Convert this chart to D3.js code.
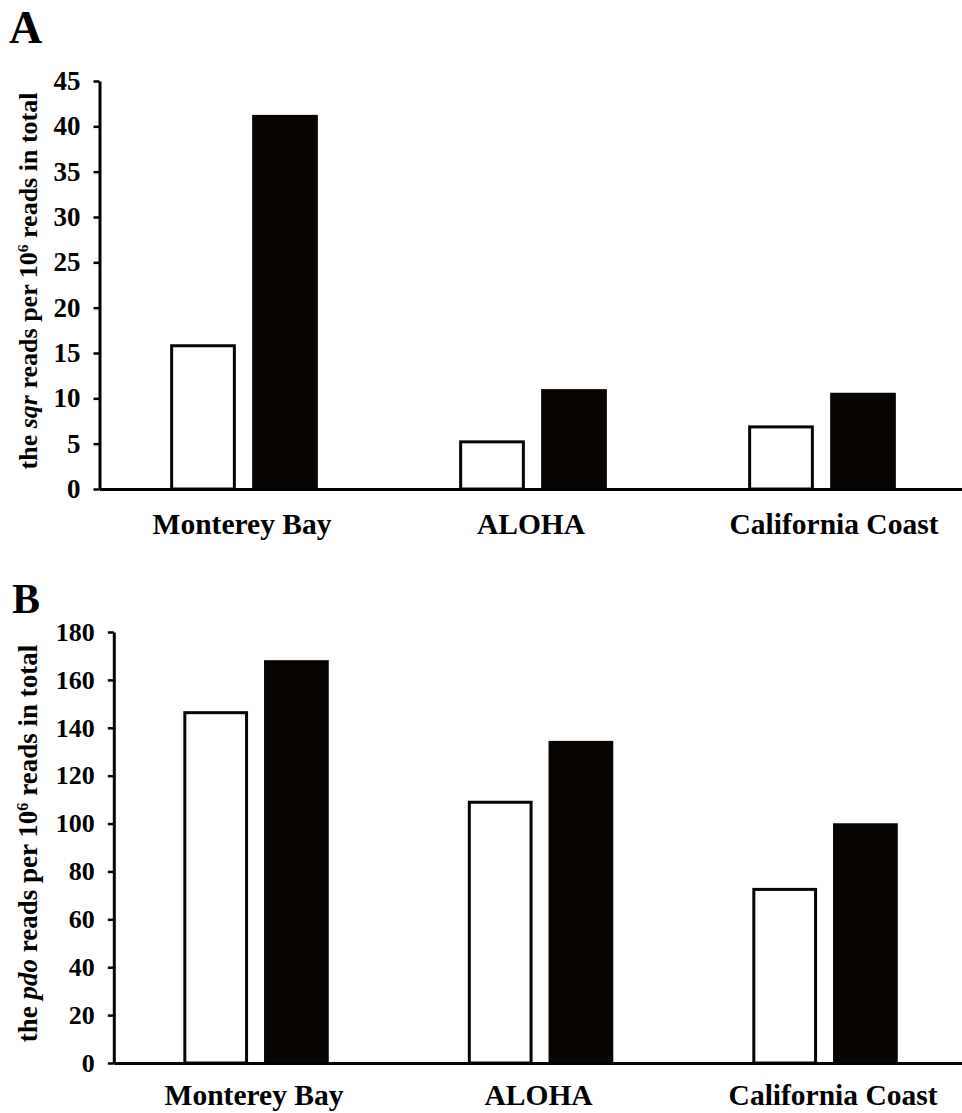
<!DOCTYPE html>
<meta charset="utf-8">
<style>
body { margin: 0; background: #fff; }
text { font-family: "Liberation Serif", "Times New Roman", serif; font-weight: bold; fill: #000; }
</style>
<body>
<script src="https://d3js.org/d3.v7.min.js"></script>
<script>

var sites = ["Monterey Bay", "ALOHA", "California Coast"];
var series = ["white", "black"];

// panel A: sqr reads per 10^6 reads
var sqrWhite = [15.8, 5.2, 6.85];
var sqrBlack = [41.1, 10.85, 10.45];
var sqrTicks = [0, 5, 10, 15, 20, 25, 30, 35, 40, 45];

// panel B: pdo reads per 10^6 reads
var pdoWhite = [146.3, 108.9, 72.5];
var pdoBlack = [167.6, 133.9, 99.5];
var pdoTicks = [0, 20, 40, 60, 80, 100, 120, 140, 160, 180];

var width = 962, height = 1113;

var svg = d3.select("body").append("svg")
    .attr("width", width)
    .attr("height", height);

function panel(opt) {
  var g = svg.append("g");

  var x = d3.scaleBand()
      .domain(sites)
      .range([opt.left, opt.left + 3 * opt.band]);

  var xs = d3.scaleBand()
      .domain(series)
      .range([0, opt.band])
      .paddingInner(0.235)
      .paddingOuter(0.88);

  var y = d3.scaleLinear()
      .domain([0, opt.max])
      .range([opt.bottom, opt.top]);

  var rows = [];
  sites.forEach(function(s, i) {
    rows.push({site: s, k: "white", v: opt.white[i]});
    rows.push({site: s, k: "black", v: opt.black[i]});
  });

  g.selectAll("rect.bar")
    .data(rows)
    .enter().append("rect")
      .attr("class", "bar")
      .attr("x", d => x(d.site) + xs(d.k))
      .attr("width", xs.bandwidth())
      .attr("y", d => y(d.v))
      .attr("height", d => y(0) - y(d.v))
      .attr("fill", d => d.k == "white" ? "#fff" : "#080402")
      .attr("stroke", "#080402")
      .attr("stroke-width", 3);

  // y axis
  var ya = g.append("g")
      .attr("transform", "translate(" + opt.left + ",0)")
      .call(d3.axisLeft(y).tickValues(opt.ticks).tickSize(6).tickSizeOuter(0).tickPadding(13));
  ya.select(".domain").attr("stroke", "#000").attr("stroke-width", 3);
  ya.selectAll(".tick line").attr("stroke", "#000").attr("stroke-width", 2.5);
  ya.selectAll(".tick text")
      .attr("font-weight", "bold")
      .attr("font-size", opt.tickSize)
      .attr("fill", "#000");

  // x axis
  var xa = g.append("g")
      .attr("transform", "translate(0," + opt.bottom + ")")
      .call(d3.axisBottom(x).tickSize(0).tickSizeOuter(0));
  xa.select(".domain").attr("stroke", "#000").attr("stroke-width", 3);
  xa.selectAll(".tick text")
      .attr("font-weight", "bold")
      .attr("font-size", 29.5)
      .attr("fill", "#000")
      .attr("dy", null)
      .attr("dx", (d, i) => i == 2 ? opt.lastShift : -2)
      .attr("y", opt.labelY - opt.bottom);

  // y label
  var lab = g.append("text")
      .attr("transform", "translate(37," + ((opt.top + opt.bottom) / 2 - 4) + ") rotate(-90)")
      .attr("text-anchor", "middle")
      .style("font-size", opt.labSize + "px");
  lab.append("tspan").text("the ");
  lab.append("tspan").style("font-style", "italic").text(opt.gene);
  lab.append("tspan").text(" reads per 10");
  lab.append("tspan").attr("dy", "-0.55em").style("font-size", (opt.labSize * 0.6) + "px").text("6");
  lab.append("tspan").attr("dy", "0.33em").text(" reads in total");

  // panel letter
  g.append("text")
      .attr("x", opt.letterX)
      .attr("y", opt.letterY)
      .style("font-size", opt.letterSize + "px")
      .text(opt.letter);
}

panel({
  letter: "A", letterX: 9, letterY: 43, letterSize: 46,
  gene: "sqr", labSize: 26,
  white: sqrWhite, black: sqrBlack, ticks: sqrTicks, max: 45,
  left: 99.5, band: 289, top: 81, bottom: 489, labelY: 534, tickSize: 27, lastShift: 12
});

panel({
  letter: "B", letterX: 12, letterY: 613, letterSize: 42,
  gene: "pdo", labSize: 27,
  white: pdoWhite, black: pdoBlack, ticks: pdoTicks, max: 180,
  left: 113.8, band: 284.5, top: 632, bottom: 1063, labelY: 1105, tickSize: 26, lastShift: 8
});

</script>
</body>
</html>
